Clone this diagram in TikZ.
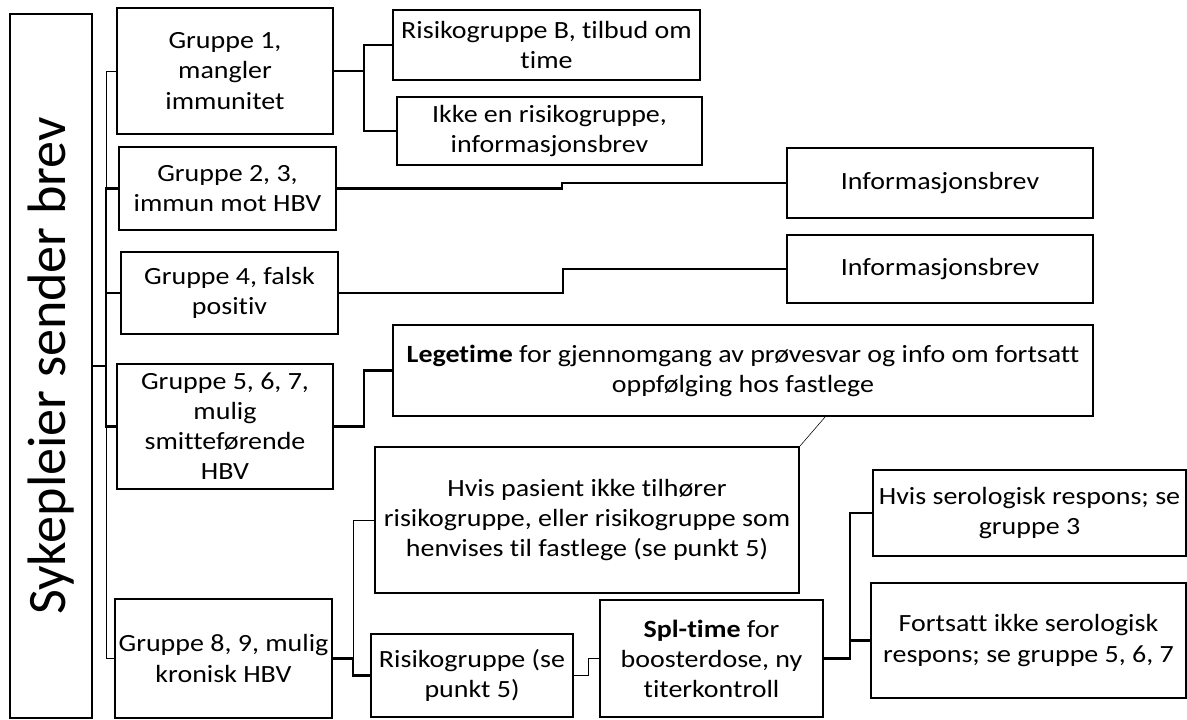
\documentclass[tikz,border=0pt]{standalone}
\usepackage{fontspec}
\setmainfont{Carlito}[Ligatures={NoCommon,NoContextual,NoRequired}, Contextuals=NoAlternate]
\newfontfamily\widefont{Carlito}[FakeStretch=1.13, Ligatures={NoCommon,NoContextual,NoRequired}, Contextuals=NoAlternate]
\begin{document}
\begin{tikzpicture}[x=0.025cm, y=-0.025cm,
  box/.style 2 args={draw, line width=1.5pt, align=center, inner sep=0pt,
    minimum width=#1*0.025cm, minimum height=#2*0.025cm,
    font=\widefont\fontsize{17.6}{21.4}\selectfont},
  link/.style={line width=1.5pt},
  thinlink/.style={line width=0.7pt}]
\useasboundingbox (0,0) rectangle (1187,720);

\node[box={82}{704}, font=\rmfamily\fontsize{38.5}{40}\selectfont] (main) at (51,366) {\rotatebox{90}{Sykepleier sender brev}};

\node[box={216}{126}] (g1) at (225,71) {Gruppe 1,\\ mangler\\ immunitet};
\node[box={217}{83}] (g2) at (227.5,188.5) {Gruppe 2, 3,\\ immun mot HBV};
\node[box={217}{82}] (g4) at (229.5,293) {Gruppe 4, falsk\\ positiv};
\node[box={216}{125}] (g5) at (225,426.5) {Gruppe 5, 6, 7,\\ mulig\\ smitteførende\\ HBV};
\node[box={217}{119}] (g8) at (223.5,658.5) {Gruppe 8, 9, mulig\\ kronisk HBV};

\node[box={307}{70}] (riskb) at (546.5,45) {Risikogruppe B, tilbud om\\ time};
\node[box={305}{68}] (ikke) at (549.5,131) {Ikke en risikogruppe,\\ informasjonsbrev};
\node[box={306}{70}] (info1) at (940,183) {Informasjonsbrev};
\node[box={306}{68}] (info2) at (940,269) {Informasjonsbrev};
\node[box={700}{91}] (lege) at (743,370.5) {\textbf{Legetime} for gjennomgang av prøvesvar og info om fortsatt\\ oppfølging hos fastlege};
\node[box={424}{146}] (hvis) at (587,520) {Hvis pasient ikke tilhører\\ risikogruppe, eller risikogruppe som\\ henvises til fastlege (se punkt 5)};
\node[box={202}{83}] (risik) at (472,675.5) {Risikogruppe (se\\ punkt 5)};
\node[box={223}{117}] (spl) at (711.5,658.5) {\textbf{Spl-time} for\\ boosterdose, ny\\ titerkontroll};
\node[box={313}{86}] (sero) at (1029.5,513) {Hvis serologisk respons; se\\ gruppe 3};
\node[box={315}{115}] (forts) at (1028.5,640.5) {Fortsatt ikke serologisk\\ respons; se gruppe 5, 6, 7};

\draw[thinlink] (main.east) -- ++(13,0) |- (g1.west);
\draw[link] (main.east) -- ++(13,0) |- (g2.west);
\draw[link] (main.east) -- ++(13,0) |- (g4.west);
\draw[link] (main.east) -- ++(13,0) |- (g5.west);
\draw[thinlink] (main.east) -- ++(13,0) |- (g8.west);

\draw[link] (g1.east) -- ++(30,0) |- (riskb.west);
\draw[link] (g1.east) -- ++(30,0) |- (ikke.west);
\draw[link] (g2.east) -- ++(225,0) |- (info1.west);
\draw[link] (g4.east) -- ++(224,0) |- (info2.west);
\draw[link] (g5.east) -- ++(30,0) |- (lege.west);
\draw[thinlink] (g8.east) -- ++(20,0) |- (hvis.west);
\draw[link] (g8.east) -- ++(20,0) |- (risik.west);
\draw[thinlink] (risik.east) -- ++(14,0) |- (spl.west);
\draw[link] (spl.east) -- ++(26,0) |- (sero.west);
\draw[link] (spl.east) -- ++(26,0) |- (forts.west);
\draw[line width=0.4pt] ([xshift=2.05cm]lege.south) -- (hvis.north east);
\end{tikzpicture}
\end{document}
